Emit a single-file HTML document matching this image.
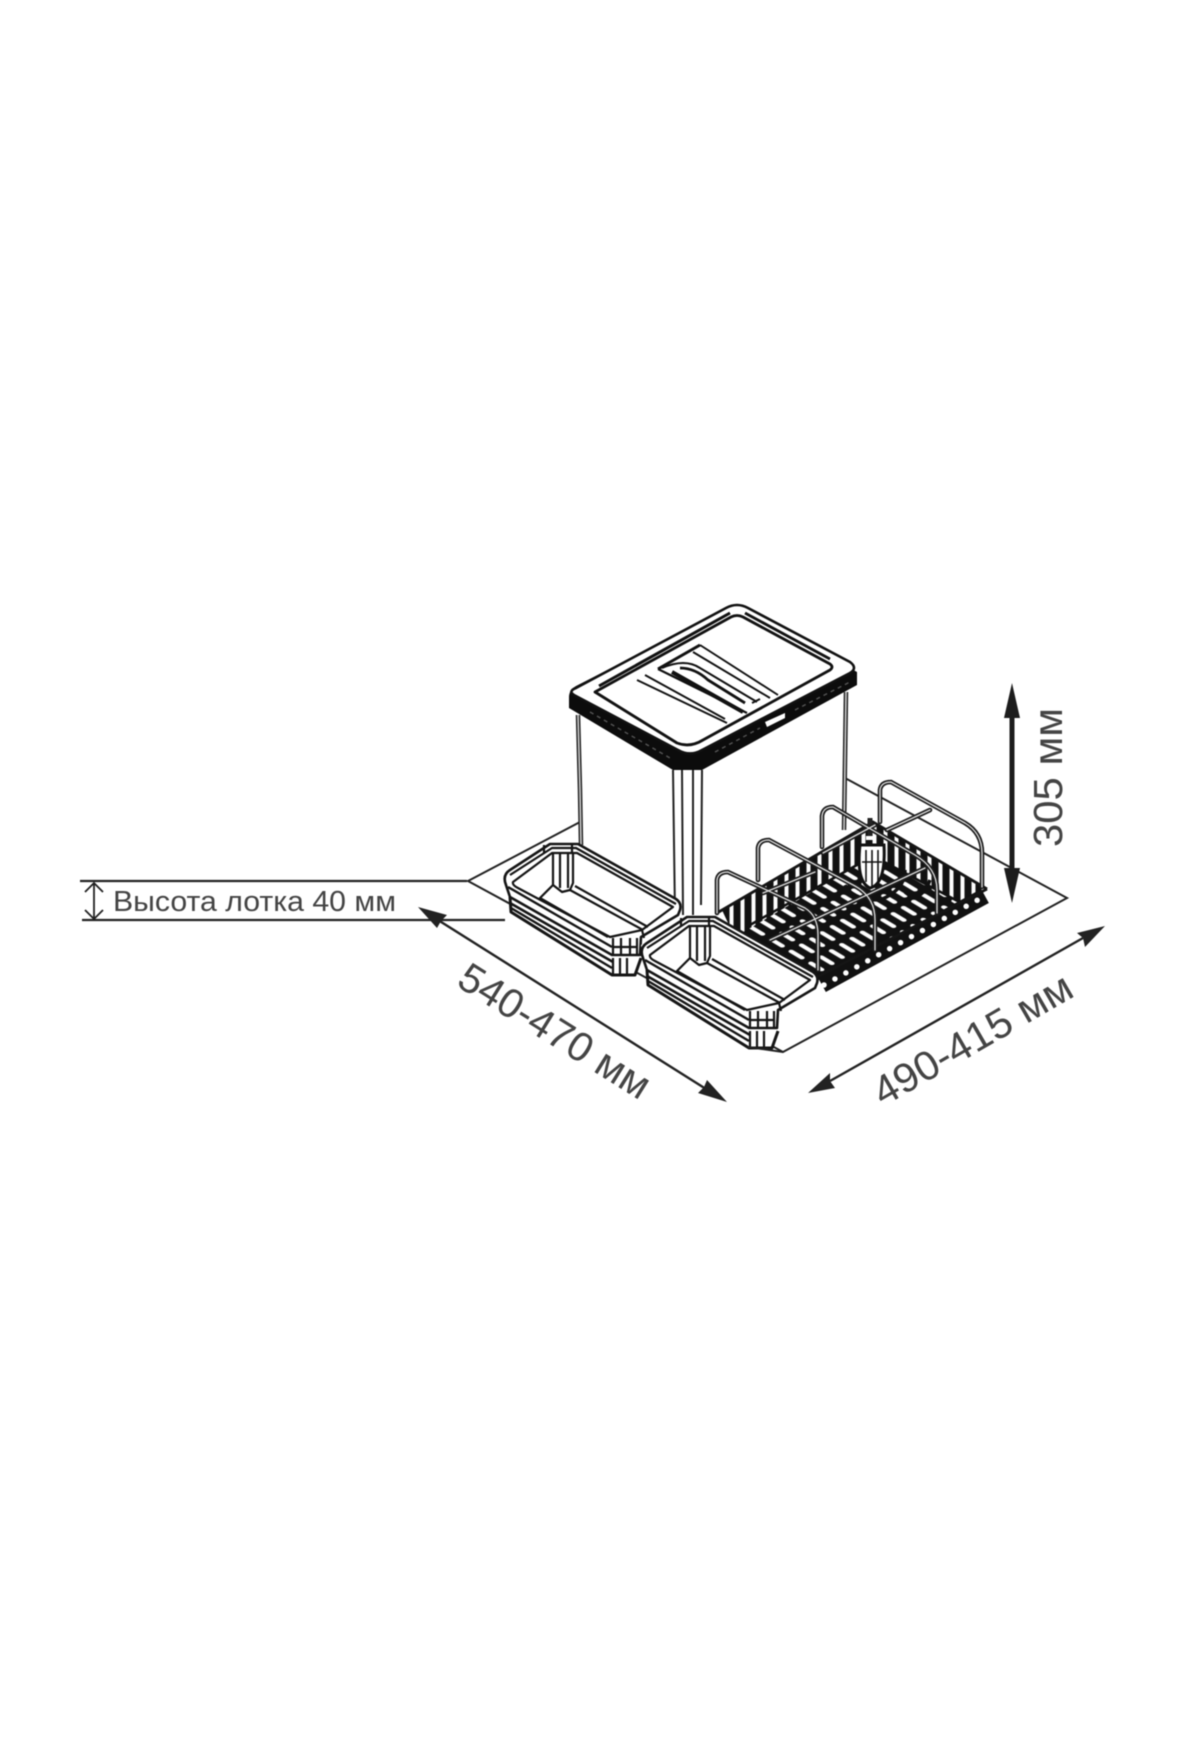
<!DOCTYPE html>
<html lang="ru"><head><meta charset="utf-8"><title>Размеры</title>
<style>html,body{margin:0;padding:0;background:#fff}svg{display:block;filter:blur(.5px)}text{font-family:"Liberation Sans",sans-serif;fill:#444}</style></head>
<body>
<svg width="1200" height="1760" viewBox="0 0 1200 1760" xmlns="http://www.w3.org/2000/svg">
<defs>
<pattern id="floor" width="23" height="12" patternUnits="userSpaceOnUse" patternTransform="matrix(.857 .515 .857 -.515 0 0)">
<rect width="23" height="12" fill="#111"/><rect x="3" y="3.8" width="17" height="4.4" rx="2.2" fill="#fff"/></pattern>
<pattern id="barsL" width="11" height="40" patternUnits="userSpaceOnUse" patternTransform="skewY(-30)">
<rect width="11" height="40" fill="#111"/><rect x="3.5" y="0" width="4" height="40" fill="#fff"/></pattern>
<pattern id="barsR" width="11" height="40" patternUnits="userSpaceOnUse" patternTransform="skewY(30)">
<rect width="11" height="40" fill="#111"/><rect x="3.5" y="0" width="4" height="40" fill="#fff"/></pattern>
<g id="tray" fill="none" stroke="#151515" stroke-width="2.2" stroke-linejoin="round">
<path fill="#fff" stroke="none" d="M504,872 550,844 578,844 680,902 678,916 642,938 640,958 636,976 612,975 511,913 506,885Z"/>
<path stroke-width="2.6" d="M506,885Q502,875 510,870L550,844H578L676,899Q682,903 680,910L678,915 641,937 640,955H612L510,897Z"/>
<path d="M510,875 552,848H576L676,904"/>
<path d="M513,882 552,853H577L673,907 642,930 610,937 518,888Q512,885 513,882Z"/>
<path stroke-width="3" d="M510,897 511,912 612,975H635L641,958"/>
<path stroke-width="2.6" d="M510,903 613,962"/>
<path stroke-width="2.4" d="M511,908 612,968"/>
<path stroke-width="2.4" d="M508,887 612,947"/>
<path d="M553,853V885L562,892 570,890 573,883V853M560,853V888M568,853V888"/>
<path d="M553,885 540,898 608,937M570,890 643,930M575,886 648,927"/>
<path d="M544,845V853M572,845V853"/>
<path d="M613,938V956M621,938V956M630,938V956M637,938V956M613,947H638"/>
<path d="M613,958V975M620,958V975M627,958V975"/>
<path d="M642,930 644,938"/>
</g>
</defs>
<rect width="1200" height="1760" fill="#fff"/>

<!-- plate -->
<path d="M580,822 468,881 783,1052 1067,898 845,778" fill="none" stroke="#222" stroke-width="2"/>

<!-- bin body -->
<path d="M578,700 582,850 673,915H702L842,830 846,680 700,760Z" fill="#fff"/>
<g fill="none" stroke="#333">
<path stroke-width="4.5" stroke="#222" d="M578,715 580,790 581,845"/><path stroke-width="1.6" stroke="#ccc" d="M578,715 580,790 581,845"/>
<path stroke-width="4.5" stroke="#222" d="M846,692 844,830"/><path stroke-width="1.6" stroke="#ccc" d="M846,692 844,830"/>
<path stroke-width="2" stroke="#222" d="M673,770 675,915M682,770 683,915M693,770 693,915M702,770 701,905"/>
</g>
<!-- lid -->
<path d="M569,697Q569,690 576,686L737,604 857,672V685L702,770H673L569,708Z" fill="#0c0c0c"/>
<path d="M590,712 670,758M715,752 760,728M795,710 850,682" stroke="#555" stroke-width="1.4" stroke-dasharray="4 4" fill="none"/>
<path d="M765,722 785,713 785,718 767,727Z" fill="#fff"/>
<path d="M576,688 726,608Q737,602 748,608L850,662Q858,668 850,673L702,750Q690,757 678,750L574,695Q568,691 576,688Z" fill="#fff" stroke="#111" stroke-width="2.6" stroke-linejoin="round"/>
<path d="M595,692 731,617Q737,614 743,617L830,664Q834,667 830,670L703,740Q690,748 677,743Z" fill="#fff" stroke="#111" stroke-width="2.8" stroke-linejoin="round"/>
<g fill="none" stroke="#111" stroke-width="1.9">
<path d="M599,686 730,613" stroke-width="3"/>
<path d="M745,613 830,659" stroke-width="2.8"/>
<path d="M637,680 727,723"/><path d="M645,675 725,719"/><path d="M658,669 747,713" stroke-width="2.2"/>
<path d="M658,669 700,645" stroke-width="3"/>
<path d="M700,645 778,695"/><path d="M693,652 770,698"/>
<path d="M662,668Q685,658 700,668L757,702" stroke-width="2"/>
<path d="M672,672 743,712" stroke-width="4"/>
<path d="M680,668Q695,668 708,680L745,703" stroke-width="2.8"/>
<path d="M752,703 760,699"/>
</g>

<!-- basket -->
<path d="M722,910 873,823 987,890 985,903 823,992 740,940Z" fill="#fff"/>
<path d="M722,910 873,823V856L735,938Z" fill="url(#barsL)"/>
<path d="M873,823 983,888 965,905 873,856Z" fill="url(#barsR)"/>
<path d="M735,937 873,856 965,905 825,985Z" fill="url(#floor)"/>
<g fill="none" stroke="#111" stroke-width="3.5">
<path d="M790,895Q800,925 815,915"/><path d="M845,885Q852,900 880,900Q905,890 905,870"/>
<path d="M905,892Q920,905 930,880"/><path d="M750,925 873,856" stroke-width="2.5"/>
<path d="M873,856 965,905" stroke-width="2.5"/>
</g>
<path d="M822,985 985,896" stroke="#111" stroke-width="16" fill="none"/>
<path d="M824,985 983,897" stroke="#fff" stroke-width="5.5" stroke-linecap="round" stroke-dasharray="0 12.5" fill="none"/>
<g fill="none" stroke="#151515" stroke-width="2.8">
<path d="M717,913 873,822 987,889"/><path d="M987,889 817,977"/>
</g>
<path d="M860,845Q856,882 870,888Q886,884 884,845Z" fill="#fff" stroke="#111" stroke-width="3"/>
<path d="M866,850V882M872,850V886M878,850V882M862,862H882" stroke="#111" stroke-width="1.6"/>
<rect x="866" y="836" width="9" height="4" fill="#fff"/>
<path d="M870,818V836" stroke="#222" stroke-width="5"/>

<!-- hoops and cross wires -->
<g fill="none" stroke="#1c1c1c" stroke-width="4.6" stroke-linecap="round">
<path d="M717,913V880Q718,872 728,872L805,908Q818,916 818,935V970"/>
<path d="M758,880V848Q759,840 769,840L855,886Q875,897 875,920V950"/>
<path d="M822,847V816Q823,807 833,807L915,855Q937,868 937,890V913"/>
<path d="M880,822V790Q881,782 891,782L965,823Q982,833 982,853V887"/>
<path d="M763,893 815,872"/><path d="M770,940 925,868"/>
<path d="M823,853 875,825"/><path d="M887,830 930,810"/>
</g>
<g fill="none" stroke="#ddd" stroke-width="1.3" stroke-linecap="round">
<path d="M717,913V880Q718,872 728,872L805,908Q818,916 818,935V970"/>
<path d="M758,880V848Q759,840 769,840L855,886Q875,897 875,920V950"/>
<path d="M822,847V816Q823,807 833,807L915,855Q937,868 937,890V913"/>
<path d="M880,822V790Q881,782 891,782L965,823Q982,833 982,853V887"/>
<path d="M763,893 815,872"/><path d="M770,940 925,868"/>
<path d="M823,853 875,825"/><path d="M887,830 930,810"/>
</g>

<!-- trays -->
<use href="#tray"/>
<use href="#tray" transform="translate(137 73)"/>
<path d="M748,1047 783,1052" stroke="#222" stroke-width="2"/>

<!-- tray height dimension -->
<g fill="none" stroke="#222" stroke-width="2">
<path stroke-width="2.2" d="M80,881H467"/><path stroke-width="2.2" d="M82,920H505"/>
<path stroke-width="1.8" d="M94,883V919M85,892 94,883 103,892M85,910 94,919 103,910"/>
</g>
<text x="113" y="911" font-size="29" textLength="283" lengthAdjust="spacingAndGlyphs">Высота лотка 40 мм</text>

<!-- 540-470 arrow -->
<path d="M438,920 706,1089" stroke="#222" stroke-width="2.4"/>
<path d="M418,907 447,915 441,921 437,928Z" fill="#222"/>
<path d="M727,1102 707,1080 704,1087 698,1093Z" fill="#222"/>
<text transform="translate(455 985) rotate(32)" font-size="41" textLength="218" lengthAdjust="spacingAndGlyphs">540-470 мм</text>

<!-- 490-415 arrow -->
<path d="M830,1081 1083,938" stroke="#222" stroke-width="2.4"/>
<path d="M808,1093 830,1073 830,1081 835,1088Z" fill="#222"/>
<path d="M1105,926 1077,933 1083,938 1085,947Z" fill="#222"/>
<text transform="translate(883 1107) rotate(-30)" font-size="41" textLength="223" lengthAdjust="spacingAndGlyphs">490-415 мм</text>

<!-- 305 arrow -->
<path d="M1012,712V875" stroke="#1c1c1c" stroke-width="5"/>
<path d="M1012,683 1020,718H1004Z" fill="#1c1c1c"/>
<path d="M1012,903 1020,868H1004Z" fill="#1c1c1c"/>
<text transform="translate(1062 847) rotate(-90)" font-size="41" textLength="139" lengthAdjust="spacingAndGlyphs">305 мм</text>
</svg>
</body></html>
